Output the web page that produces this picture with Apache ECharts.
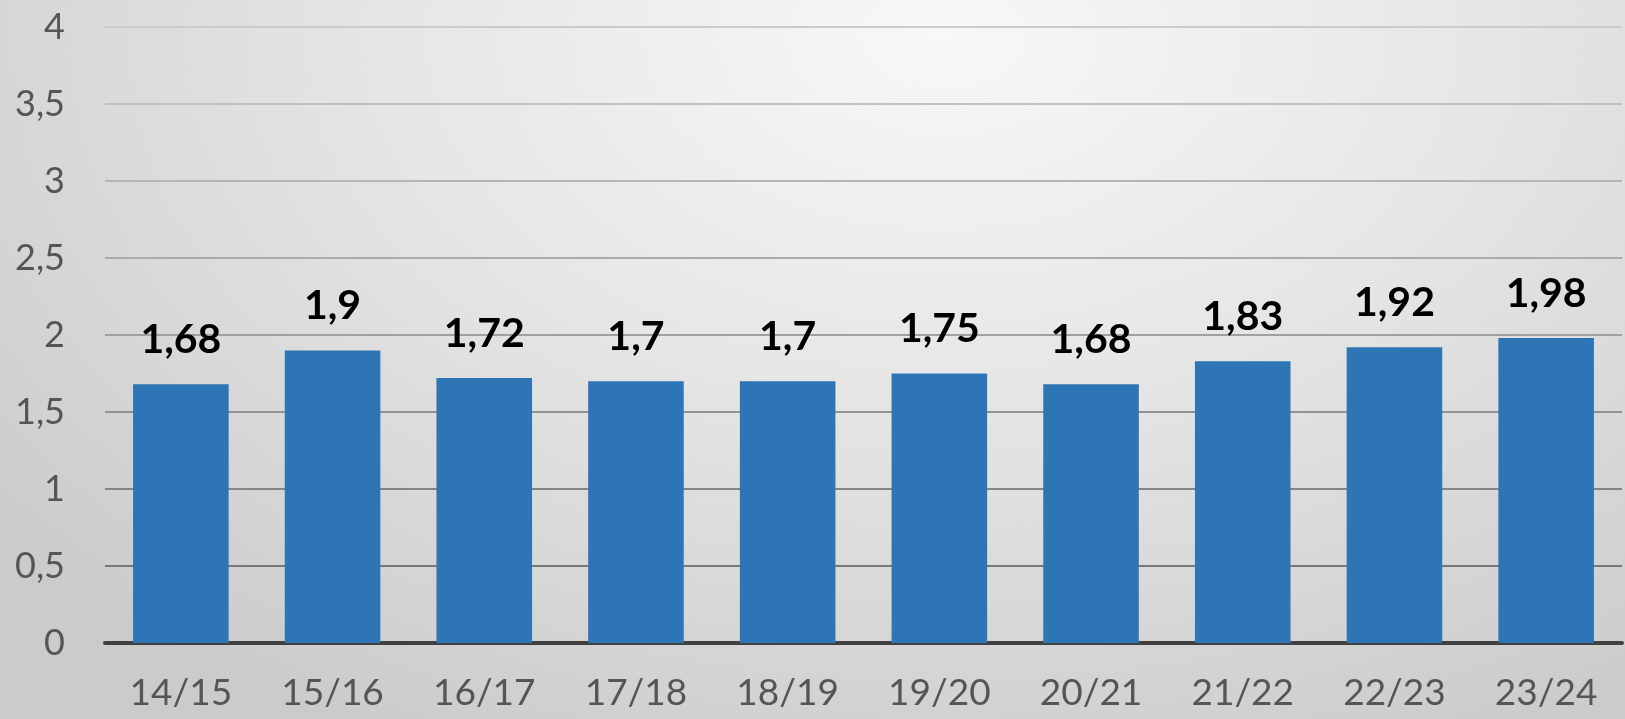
<!DOCTYPE html>
<html>
<head>
<meta charset="utf-8">
<script src="https://cdn.jsdelivr.net/npm/echarts@6/dist/echarts.min.js"></script>
<style>
  html, body { margin: 0; padding: 0; }
  #chart {
    width: 1625px;
    height: 719px;
    background: radial-gradient(ellipse 75% 110% at 58% 5%, #f8f8f8 0%, #e6e6e6 45%, #cbcbcb 100%);
  }
</style>
</head>
<body>
<div id="chart"></div>
<script>
// saesoner og vaerdier
const seasons = ['14/15', '15/16', '16/17', '17/18', '18/19', '19/20', '20/21', '21/22', '22/23', '23/24']
const values = [1.68, 1.9, 1.72, 1.7, 1.7, 1.75, 1.68, 1.83, 1.92, 1.98]
const yTicks = [0, 0.5, 1, 1.5, 2, 2.5, 3, 3.5, 4]

const comma = v => String(v).replace('.', ',')

const chart = echarts.init(document.getElementById('chart'))

const option = {
  animation: false,
  textStyle: { fontFamily: 'Lato' },
  grid: { left: 105, right: 3, top: 27, bottom: 76 },
  xAxis: {
    type: 'category',
    data: seasons,
    axisTick: { show: false },
    axisLine: { lineStyle: { color: '#404040', width: 4 } },
    axisLabel: { color: '#555555', fontSize: 37, margin: 32 }
  },
  yAxis: {
    type: 'value',
    min: yTicks[0],
    max: yTicks[yTicks.length - 1],
    interval: 0.5,
    axisLine: { show: false },
    axisTick: { show: false },
    axisLabel: {
      color: '#555555',
      fontSize: 36,
      margin: 40,
      formatter: v => comma(v)
    },
    splitLine: {
      lineStyle: {
        width: 2,
        color: {
          type: 'linear', global: true,
          x: 0, y: 27, x2: 0, y2: 643,
          colorStops: [
            { offset: 0, color: '#cbcbcb' },
            { offset: 0.5, color: '#a0a0a0' },
            { offset: 1, color: '#6a6a6a' }
          ]
        }
      }
    }
  },
  series: [{
    type: 'bar',
    data: values,
    barCategoryGap: '37%',
    itemStyle: { color: '#2e75b6' },
    label: {
      show: true,
      position: 'top',
      distance: 24,
      color: '#000000',
      fontSize: 41,
      fontWeight: 'bold',
      formatter: p => comma(p.value)
    }
  }]
}
chart.setOption(option)
</script>
</body>
</html>
